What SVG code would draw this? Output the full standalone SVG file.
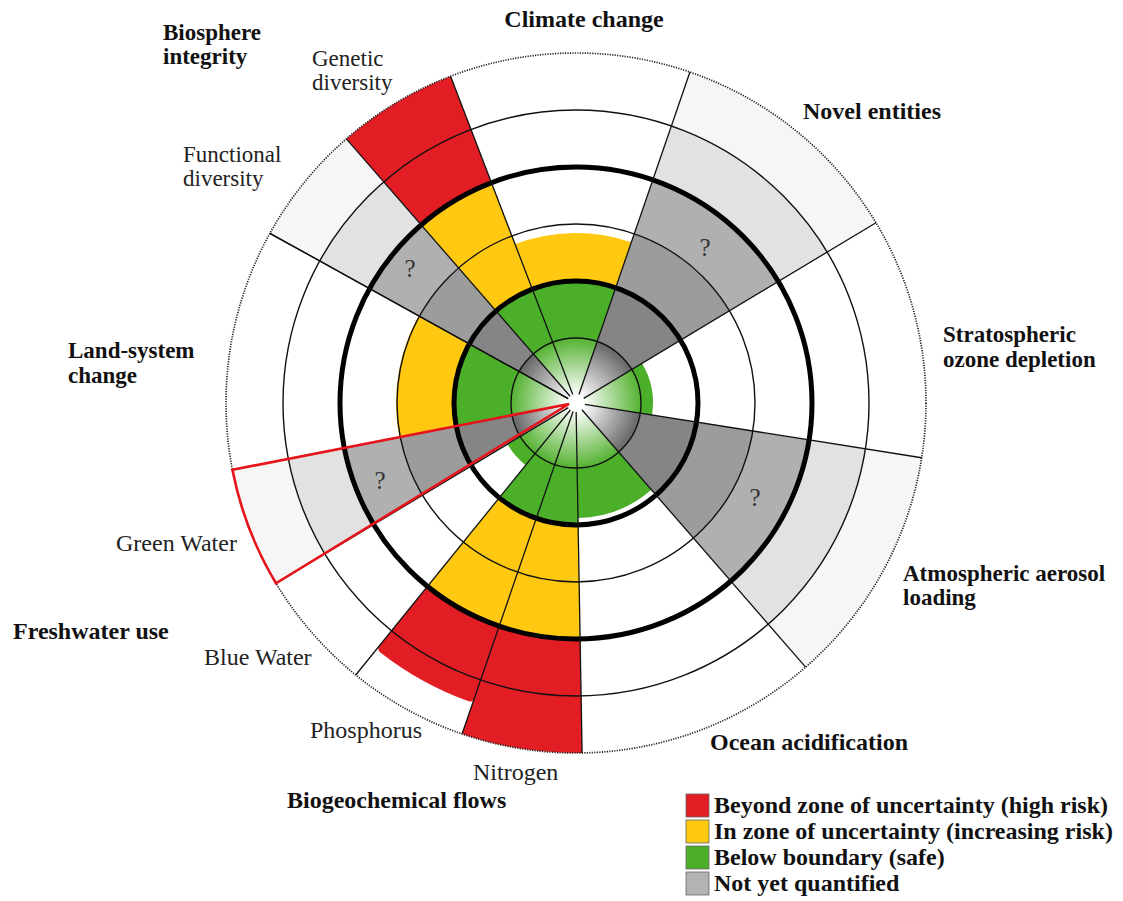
<svg xmlns="http://www.w3.org/2000/svg" xmlns:xlink="http://www.w3.org/1999/xlink" width="1123" height="901" viewBox="0 0 1123 901">
<style>
.g{fill:#4caf2a}.y{fill:#fec910}.r{fill:#e21e24}
.k1{fill:#858585}.k2{fill:#9c9c9c}.k3{fill:#b0b0b0}.k4{fill:#e2e2e2}.k5{fill:#f6f6f6}
.thin{fill:none;stroke:#111;stroke-width:1.4}
.thick{fill:none;stroke:#000;stroke-width:5}
.dot{fill:none;stroke:#222;stroke-width:1.7;stroke-dasharray:1.2 1.3}
.sp{stroke:#111;stroke-width:1.3}
.lb{font-family:"Liberation Serif","Times New Roman",serif;font-weight:bold;font-size:24px;fill:#111}
.lb2{font-family:"Liberation Serif","Times New Roman",serif;font-weight:bold;font-size:23px;fill:#111}
.ln{font-family:"Liberation Serif","Times New Roman",serif;font-size:24px;fill:#222}
.ln2{font-family:"Liberation Serif","Times New Roman",serif;font-size:23px;fill:#222}
.q{font-family:"Liberation Serif","Times New Roman",serif;font-size:25px;fill:#333;text-anchor:middle}
</style>
<defs>
<radialGradient id="gg" cx="0" cy="0" r="65" gradientUnits="userSpaceOnUse">
<stop offset="0" stop-color="#ffffff"/><stop offset="0.12" stop-color="#ffffff"/><stop offset="1" stop-color="#55b232"/>
</radialGradient>
<radialGradient id="gk" cx="0" cy="0" r="65" gradientUnits="userSpaceOnUse">
<stop offset="0" stop-color="#ffffff"/><stop offset="0.12" stop-color="#ffffff"/><stop offset="1" stop-color="#666666"/>
</radialGradient>
<path id="a0_122" d="M0,0 L0,-122 A122,122 0 0 1 78.42,-93.46 Z"/>
<path id="a122_170" d="M0,-170 A170,170 0 0 1 109.27,-130.23 L78.42,-93.46 A122,122 0 0 0 0,-122 Z"/>
<path id="a122_180" d="M0,-180 A180,180 0 0 1 115.70,-137.89 L78.42,-93.46 A122,122 0 0 0 0,-122 Z"/>
<path id="a0_77" d="M0,0 L0,-77 A77,77 0 0 1 49.49,-58.99 Z"/>
<path id="a0_115" d="M0,0 L0,-115 A115,115 0 0 1 73.92,-88.09 Z"/>
<path id="a122_179" d="M0,-179 A179,179 0 0 1 115.06,-137.12 L78.42,-93.46 A122,122 0 0 0 0,-122 Z"/>
<path id="a179_236" d="M0,-236 A236,236 0 0 1 151.70,-180.79 L115.06,-137.12 A179,179 0 0 0 0,-179 Z"/>
<path id="a236_293" d="M0,-293 A293,293 0 0 1 188.34,-224.45 L151.70,-180.79 A236,236 0 0 0 0,-236 Z"/>
<path id="a293_350" d="M0,-350 A350,350 0 0 1 224.98,-268.11 L188.34,-224.45 A293,293 0 0 0 0,-293 Z"/>
<path id="a0_65" d="M0,0 L0,-65 A65,65 0 0 1 41.78,-49.79 Z"/>
<path id="b0_122" d="M0,0 L0,-122 A122,122 0 0 1 41.73,-114.64 Z"/>
<path id="b122_236" d="M0,-236 A236,236 0 0 1 80.72,-221.77 L41.73,-114.64 A122,122 0 0 0 0,-122 Z"/>
<path id="b236_350" d="M0,-350 A350,350 0 0 1 119.71,-328.89 L80.72,-221.77 A236,236 0 0 0 0,-236 Z"/>
<path id="b236_317" d="M0,-236 L0,-312 Q0,-317 4.98,-316.96 A317,317 0 0 1 103.73,-299.55 Q108.42,-297.88 106.71,-293.18 L80.72,-221.77 A236,236 0 0 0 0,-236 Z"/>
<path id="b0_80" d="M0,0 L0,-80 A80,80 0 0 1 27.36,-75.18 Z"/>
<path id="b122_179" d="M0,-179 A179,179 0 0 1 61.22,-168.20 L41.73,-114.64 A122,122 0 0 0 0,-122 Z"/>
<path id="b179_236" d="M0,-236 A236,236 0 0 1 80.72,-221.77 L61.22,-168.20 A179,179 0 0 0 0,-179 Z"/>
<path id="b236_293" d="M0,-293 A293,293 0 0 1 100.21,-275.33 L80.72,-221.77 A236,236 0 0 0 0,-236 Z"/>
<path id="b293_350" d="M0,-350 A350,350 0 0 1 119.71,-328.89 L100.21,-275.33 A293,293 0 0 0 0,-293 Z"/>
<path id="b0_65" d="M0,0 L0,-65 A65,65 0 0 1 22.23,-61.08 Z"/>
</defs>
<rect width="1123" height="901" fill="#ffffff"/>
<g transform="translate(576,403)">
<g id="climate-change" transform="rotate(-21)">
<use xlink:href="#a0_122" class="g"/><use xlink:href="#a122_170" class="y"/>
</g>
<g id="novel-entities" transform="rotate(19)">
<use xlink:href="#a0_122" class="k1"/><use xlink:href="#a122_179" class="k2"/><use xlink:href="#a179_236" class="k3"/><use xlink:href="#a236_293" class="k4"/><use xlink:href="#a293_350" class="k5"/>
</g>
<g id="ozone-depletion" transform="rotate(59)">
<use xlink:href="#a0_77" class="g"/>
</g>
<g id="aerosol-loading" transform="rotate(99)">
<use xlink:href="#a0_122" class="k1"/><use xlink:href="#a122_179" class="k2"/><use xlink:href="#a179_236" class="k3"/><use xlink:href="#a236_293" class="k4"/><use xlink:href="#a293_350" class="k5"/>
</g>
<g id="ocean-acidification" transform="rotate(139)">
<use xlink:href="#a0_115" class="g"/>
</g>
<g id="nitrogen" transform="rotate(179)">
<use xlink:href="#b0_122" class="g"/><use xlink:href="#b122_236" class="y"/><use xlink:href="#b236_350" class="r"/>
</g>
<g id="phosphorus" transform="rotate(199)">
<use xlink:href="#b0_122" class="g"/><use xlink:href="#b122_236" class="y"/><use xlink:href="#b236_317" class="r"/>
</g>
<g id="blue-water" transform="rotate(219)">
<use xlink:href="#b0_80" class="g"/>
</g>
<g id="green-water" transform="rotate(239)">
<use xlink:href="#b0_122" class="k1"/><use xlink:href="#b122_179" class="k2"/><use xlink:href="#b179_236" class="k3"/><use xlink:href="#b236_293" class="k4"/><use xlink:href="#b293_350" class="k5"/>
</g>
<g id="land-system-change" transform="rotate(259)">
<use xlink:href="#a0_122" class="g"/><use xlink:href="#a122_180" class="y"/>
</g>
<g id="functional-diversity" transform="rotate(299)">
<use xlink:href="#b0_122" class="k1"/><use xlink:href="#b122_179" class="k2"/><use xlink:href="#b179_236" class="k3"/><use xlink:href="#b236_293" class="k4"/><use xlink:href="#b293_350" class="k5"/>
</g>
<g id="genetic-diversity" transform="rotate(319)">
<use xlink:href="#b0_122" class="g"/><use xlink:href="#b122_236" class="y"/><use xlink:href="#b236_350" class="r"/>
</g>
<g id="core">
<circle r="65" fill="url(#gg)"/>
<use xlink:href="#a0_65" fill="url(#gk)" transform="rotate(19)"/>
<use xlink:href="#a0_65" fill="url(#gk)" transform="rotate(99)"/>
<use xlink:href="#b0_65" fill="url(#gk)" transform="rotate(239)"/>
<use xlink:href="#b0_65" fill="url(#gk)" transform="rotate(299)"/>
</g>
<g id="rings">
<circle r="65" class="thin"/>
<circle r="179" class="thin"/>
<circle r="293" class="thin"/>
<circle r="122" class="thick"/>
<circle r="236" class="thick"/>
<circle r="350" class="dot"/>
</g>
<g id="connectors">
<line class="sp" x1="0" y1="-9" x2="0" y2="-350" transform="rotate(-61)"/>
<line class="sp" x1="0" y1="-9" x2="0" y2="-350" transform="rotate(-41)"/>
<line class="sp" x1="0" y1="-9" x2="0" y2="-350" transform="rotate(-21)"/>
<line class="sp" x1="0" y1="-9" x2="0" y2="-350" transform="rotate(19)"/>
<line class="sp" x1="0" y1="-9" x2="0" y2="-350" transform="rotate(59)"/>
<line class="sp" x1="0" y1="-9" x2="0" y2="-350" transform="rotate(99)"/>
<line class="sp" x1="0" y1="-9" x2="0" y2="-350" transform="rotate(139)"/>
<line class="sp" x1="0" y1="-9" x2="0" y2="-350" transform="rotate(179)"/>
<line class="sp" x1="0" y1="-9" x2="0" y2="-350" transform="rotate(199)"/>
<line class="sp" x1="0" y1="-9" x2="0" y2="-350" transform="rotate(219)"/>
<line class="sp" x1="0" y1="-9" x2="0" y2="-350" transform="rotate(239)"/>
<line class="sp" x1="0" y1="-9" x2="0" y2="-350" transform="rotate(259)"/>
<line class="sp" x1="0" y1="-9" x2="0" y2="-350" transform="rotate(299)"/>
<path d="M-7,1 L-343.57,66.78 A350,350 0 0 0 -300.01,180.26 Z" fill="none" stroke="#e8141b" stroke-width="2.6" stroke-linejoin="miter"/>
</g>
<circle r="6" fill="#ffffff"/>
</g>
<g id="question-marks">
<text class="q" x="705" y="256">?</text>
<text class="q" x="755" y="506">?</text>
<text class="q" x="380" y="489">?</text>
<text class="q" x="410" y="277">?</text>
</g>
<g id="labels">
<text class="lb" x="584" y="27" text-anchor="middle">Climate change</text>
<text class="lb2" x="163" y="40">Biosphere</text>
<text class="lb2" x="163" y="64">integrity</text>
<text class="ln2" x="312" y="66">Genetic</text>
<text class="ln2" x="312" y="90">diversity</text>
<text class="ln2" x="183" y="162">Functional</text>
<text class="ln2" x="183" y="186">diversity</text>
<text class="lb" x="803" y="119">Novel entities</text>
<text class="lb2" x="943" y="342">Stratospheric</text>
<text class="lb2" x="943" y="367">ozone depletion</text>
<text class="lb2" x="68" y="358">Land-system</text>
<text class="lb2" x="68" y="383">change</text>
<text class="lb2" x="903" y="581">Atmospheric aerosol</text>
<text class="lb2" x="903" y="605">loading</text>
<text class="ln" x="116" y="551">Green Water</text>
<text class="lb" x="13" y="639">Freshwater use</text>
<text class="ln" x="204" y="665">Blue Water</text>
<text class="ln" x="310" y="738">Phosphorus</text>
<text class="lb" x="710" y="750">Ocean acidification</text>
<text class="ln" x="473" y="780">Nitrogen</text>
<text class="lb" x="287" y="808">Biogeochemical flows</text>
</g>
<g id="legend">
<rect x="686" y="794" width="23" height="23" fill="#e21e24" stroke="#666" stroke-width="0.8"/>
<rect x="686" y="820" width="23" height="23" fill="#fec910" stroke="#666" stroke-width="0.8"/>
<rect x="686" y="846" width="23" height="23" fill="#4caf2a" stroke="#666" stroke-width="0.8"/>
<rect x="686" y="872" width="23" height="23" fill="#b3b3b3" stroke="#666" stroke-width="0.8"/>
<text class="lb" x="714" y="813">Beyond zone of uncertainty (high risk)</text>
<text class="lb" x="714" y="839">In zone of uncertainty (increasing risk)</text>
<text class="lb" x="714" y="865">Below boundary (safe)</text>
<text class="lb" x="714" y="891">Not yet quantified</text>
</g>
</svg>
